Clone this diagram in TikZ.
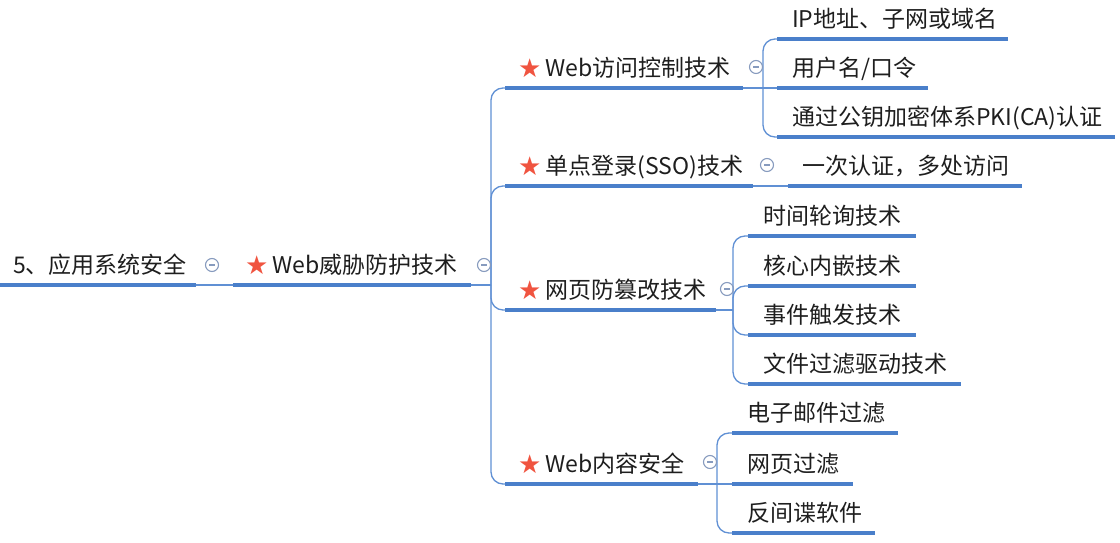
\documentclass[tikz,border=0pt]{standalone}
\usepackage{fontspec}
\setmainfont{Noto Sans CJK SC}
\newfontfamily\symfont{DejaVu Sans}
\definecolor{lineblue}{RGB}{74,127,202}
\definecolor{connblue}{RGB}{96,144,212}
\definecolor{togc}{RGB}{135,155,190}
\definecolor{starc}{RGB}{240,84,64}
\definecolor{txt}{RGB}{30,30,30}
\newcommand\mystar{{\symfont\fontsize{26}{28}\selectfont\color{starc}\raisebox{-0.5pt}{★}}\kern4pt}
\tikzset{
  topic/.style={anchor=south west, inner xsep=15pt, inner ysep=6pt,
    text height=17pt, text depth=5pt, text width=#1, align=left,
    font=\fontsize{23}{27}\selectfont, text=txt},
  uline/.style={line width=3.5pt, draw=lineblue},
  conn/.style={line width=1.3pt, draw=connblue, rounded corners=12pt},
  tog/.style={circle, draw=togc, line width=1.1pt, minimum size=13pt, inner sep=0pt,
    path picture={\draw[togc, line width=1.1pt]
      ([xshift=3.5pt]path picture bounding box.west) --
      ([xshift=-3.5pt]path picture bounding box.east);}}
}
\begin{document}
\begin{tikzpicture}[x=1pt,y=-1pt]
\useasboundingbox (0,0) rectangle (1120,543);
% level 0 and 1
\node[topic=170pt, inner xsep=13pt] (root) at (0,285) {5、应用系统安全};
\node[topic=214pt, inner xsep=12pt] (L1) at (233,285) {\mystar Web威胁防护技术};
% level 2
\node[topic=212pt, inner xsep=13pt] (A) at (505,88) {\mystar Web访问控制技术};
\node[topic=222pt, inner xsep=13pt] (B) at (505,186) {\mystar 单点登录(SSO)技术};
\node[topic=185pt, inner xsep=13pt] (C) at (505,310) {\mystar 网页防篡改技术};
\node[topic=167pt, inner xsep=13pt] (D) at (505,484) {\mystar Web内容安全};
% level 3
\node[topic=201pt] (A1) at (777,39) {IP地址、子网或域名};
\node[topic=121pt] (A2) at (777,88) {用户名/口令};
\node[topic=308pt] (A3) at (777,137) {通过公钥加密体系PKI(CA)认证};
\node[topic=206pt, inner xsep=14pt] (B1) at (788,186) {一次认证，多处访问};
\node[topic=138pt] (C1) at (748,236) {时间轮询技术};
\node[topic=138pt] (C2) at (748,286) {核心内嵌技术};
\node[topic=138pt] (C3) at (748,335) {事件触发技术};
\node[topic=183pt] (C4) at (748,384) {文件过滤驱动技术};
\node[topic=136pt] (D1) at (732,433) {电子邮件过滤};
\node[topic=91pt] (D2) at (732,484) {网页过滤};
\node[topic=113pt] (D3) at (732,533) {反间谍软件};
% junctions
\coordinate (J1) at (491,285);
\coordinate (JA) at (763,88);
\coordinate (JC) at (733,310);
\coordinate (JD) at (717,484);
% connectors
\draw[conn] (root.south east) -- (L1.south west);
\draw[conn] (L1.south east) -- (J1);
\foreach \c in {A,B,C,D} \draw[conn] (J1) |- (\c.south west);
\draw[conn] (A.south east) -- (JA);
\draw[conn] (JA) |- (A1.south west);
\draw[conn] (JA) -- (A2.south west);
\draw[conn] (JA) |- (A3.south west);
\draw[conn] (B.south east) -- (B1.south west);
\draw[conn] (C.south east) -- (JC);
\foreach \c in {C1,C2,C3,C4} \draw[conn] (JC) |- (\c.south west);
\draw[conn] (D.south east) -- (JD);
\draw[conn] (JD) |- (D1.south west);
\draw[conn] (JD) -- (D2.south west);
\draw[conn] (JD) |- (D3.south west);
% underlines
\foreach \n in {root,L1,A,B,C,D,A1,A2,A3,B1,C1,C2,C3,C4,D1,D2,D3}
  \draw[uline] (\n.south west) -- (\n.south east);
% collapse toggles
\node[tog] (t0) at (212,265) {};
\node[tog] (t1) at (484,265) {};
\node[tog] (tA) at (756,67) {};
\node[tog] (tB) at (767,165) {};
\node[tog] (tC) at (727,289) {};
\node[tog] (tD) at (710,462) {};
\end{tikzpicture}
\end{document}
